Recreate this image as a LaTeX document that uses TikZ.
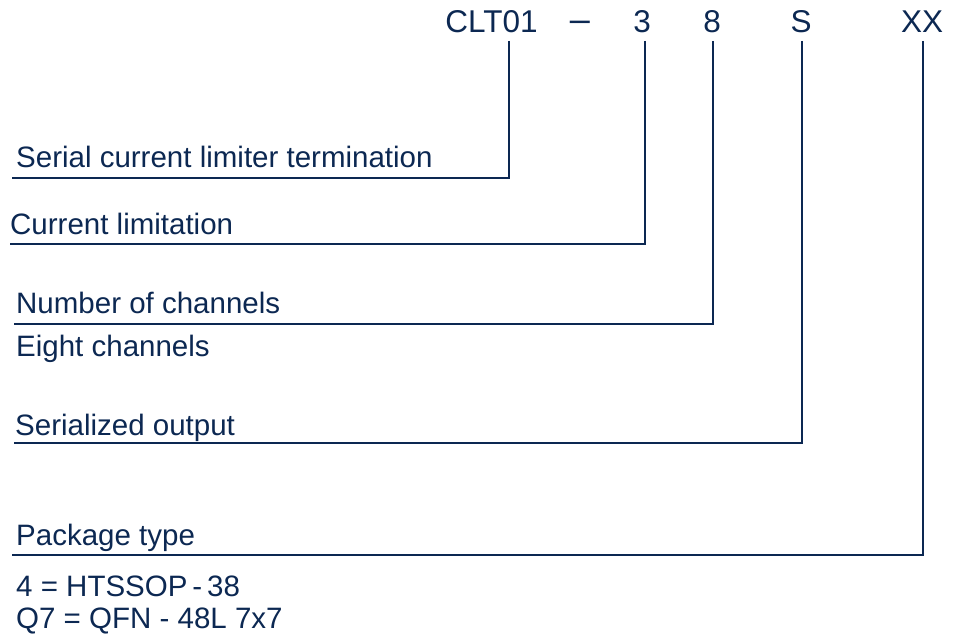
\documentclass[tikz,border=0pt]{standalone}
\usepackage{fontspec}
\setmainfont{Liberation Sans}
\definecolor{navy}{RGB}{12,40,82}
\begin{document}
\begin{tikzpicture}[x=1pt,y=-1pt,
  head/.style={anchor=base,inner sep=0pt,text=navy,font=\fontsize{31.5}{34}\selectfont},
  lbl/.style={anchor=base west,inner sep=0pt,text=navy,font=\fontsize{29.5}{32}\selectfont},
  conn/.style={draw=navy,line width=2pt}]
\useasboundingbox (0,0) rectangle (955,636);
% header
\node[head] (h1) at (491.5,33) {CLT01};
\node[head,font=\fontsize{36}{38}\selectfont] (hd) at (580,31.5) {–};
\node[head] (h2) at (642,33) {3};
\node[head] (h3) at (712,33) {8};
\node[head] (h4) at (801,33) {S};
\node[head] (h5) at (922,33) {XX};
% tick tops
\coordinate (t1) at (509,41);
\coordinate (t2) at (645,41);
\coordinate (t3) at (713,41);
\coordinate (t4) at (802,41);
\coordinate (t5) at (923,41);
% labels
\node[lbl] (l1) at (16,168) {Serial current limiter termination};
\node[lbl] (l2) at (10,235) {Current limitation};
\node[lbl] (l3) at (16,313) {Number of channels};
\node[lbl] (d3) at (16,356) {Eight channels};
\node[lbl] (l4) at (15,435) {Serialized output};
\node[lbl] (l5) at (16,545) {Package type};
\node[lbl] (d5a) at (16,596) {4 = HTSSOP\,-\,38};
\node[lbl] (d5b) at (16,628) {Q7 = QFN - 48L 7x7};
% line ends
\coordinate (e1) at (12,178);
\coordinate (e2) at (10,244);
\coordinate (e3) at (14,324);
\coordinate (e4) at (14,443);
\coordinate (e5) at (12,555);
\draw[conn] (t1) |- (e1);
\draw[conn] (t2) |- (e2);
\draw[conn] (t3) |- (e3);
\draw[conn] (t4) |- (e4);
\draw[conn] (t5) |- (e5);
\end{tikzpicture}
\end{document}
